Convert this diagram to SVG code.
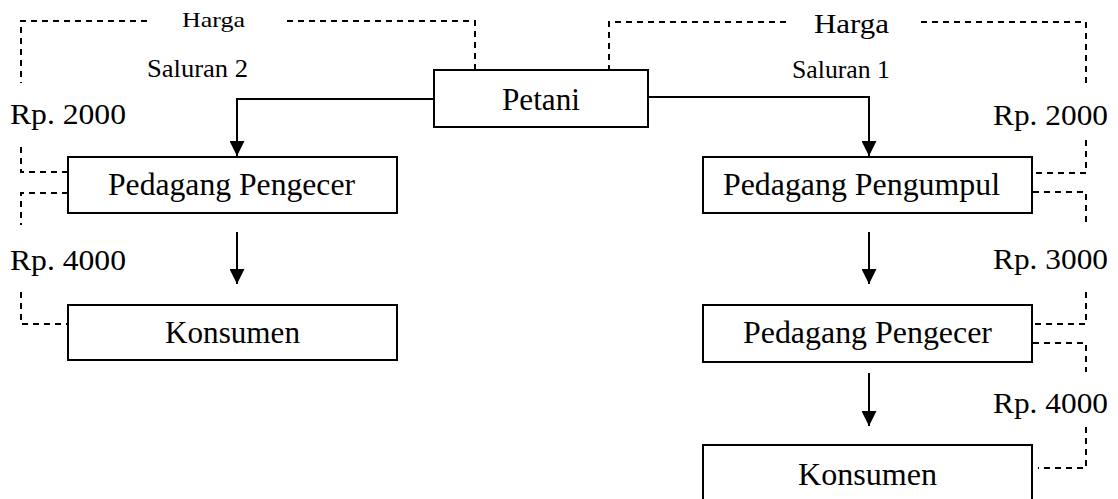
<svg xmlns="http://www.w3.org/2000/svg" width="1118" height="499" viewBox="0 0 1118 499">
<style>
.box{fill:#fff;stroke:#000;stroke-width:2}
.t{font-family:"Liberation Serif","Times New Roman",Times,serif;fill:#000}
.flow{fill:none;stroke:#000;stroke-width:2}
.dash{fill:none;stroke:#000;stroke-width:1.6;stroke-dasharray:6 5;shape-rendering:crispEdges}
</style>
<defs>
<marker id="ah" viewBox="0 0 15 15" refX="15" refY="7.5" markerWidth="15" markerHeight="15" markerUnits="userSpaceOnUse" orient="auto">
<path d="M0,0 L15,7.5 L0,15 Z" fill="#000"/>
</marker>
</defs>
<rect width="1118" height="499" fill="#fff"/>

<g id="connectors">
<path class="flow" d="M434,99 H237 V156" marker-end="url(#ah)"/>
<path class="flow" d="M648,97 H869 V156" marker-end="url(#ah)"/>
<path class="flow" d="M237,232 V284" marker-end="url(#ah)"/>
<path class="flow" d="M869,232 V284" marker-end="url(#ah)"/>
<path class="flow" d="M869,373 V426" marker-end="url(#ah)"/>
<path class="dash" d="M147,21 H21 V83"/>
<path class="dash" d="M287,21 H475 V70"/>
<path class="dash" d="M21,147 V172 H68"/>
<path class="dash" d="M68,193 H21 V225"/>
<path class="dash" d="M21,292 V324 H68"/>
<path class="dash" d="M786,22 H609 V70"/>
<path class="dash" d="M921,22 H1086 V86"/>
<path class="dash" d="M1086,140 V173 H1033"/>
<path class="dash" d="M1033,192 H1086 V227"/>
<path class="dash" d="M1086,292 V324 H1033"/>
<path class="dash" d="M1033,343 H1086 V372"/>
<path class="dash" d="M1086,427 V468 H1038"/>
</g>

<g id="labels">
<text class="t" x="182" y="27" font-size="22" textLength="63" lengthAdjust="spacingAndGlyphs">Harga</text>
<text class="t" x="147" y="77" font-size="26" textLength="101" lengthAdjust="spacingAndGlyphs">Saluran 2</text>
<text class="t" x="10" y="124" font-size="30" textLength="116" lengthAdjust="spacingAndGlyphs">Rp. 2000</text>
<text class="t" x="10" y="270" font-size="30" textLength="116" lengthAdjust="spacingAndGlyphs">Rp. 4000</text>
<text class="t" x="814" y="33" font-size="28" textLength="75" lengthAdjust="spacingAndGlyphs">Harga</text>
<text class="t" x="792" y="78" font-size="26" textLength="98" lengthAdjust="spacingAndGlyphs">Saluran 1</text>
<text class="t" x="993" y="125" font-size="30" textLength="115" lengthAdjust="spacingAndGlyphs">Rp. 2000</text>
<text class="t" x="993" y="269" font-size="30" textLength="115" lengthAdjust="spacingAndGlyphs">Rp. 3000</text>
<text class="t" x="993" y="413" font-size="30" textLength="115" lengthAdjust="spacingAndGlyphs">Rp. 4000</text>
</g>

<g id="petani">
<rect class="box" x="434" y="70" width="214" height="57"/>
<text class="t" x="502" y="110" font-size="31" textLength="78" lengthAdjust="spacingAndGlyphs">Petani</text>
</g>
<g id="pengecer2">
<rect class="box" x="68" y="157" width="329" height="56"/>
<text class="t" x="108" y="195" font-size="31" textLength="247" lengthAdjust="spacingAndGlyphs">Pedagang Pengecer</text>
</g>
<g id="konsumen2">
<rect class="box" x="68" y="305" width="329" height="55"/>
<text class="t" x="165" y="343" font-size="31" textLength="135" lengthAdjust="spacingAndGlyphs">Konsumen</text>
</g>
<g id="pengumpul1">
<rect class="box" x="703" y="157" width="329" height="56"/>
<text class="t" x="723" y="195" font-size="31" textLength="277" lengthAdjust="spacingAndGlyphs">Pedagang Pengumpul</text>
</g>
<g id="pengecer1">
<rect class="box" x="703" y="305" width="329" height="57"/>
<text class="t" x="743" y="343" font-size="31" textLength="249" lengthAdjust="spacingAndGlyphs">Pedagang Pengecer</text>
</g>
<g id="konsumen1">
<rect class="box" x="703" y="445" width="329" height="60"/>
<text class="t" x="798" y="485" font-size="31" textLength="139" lengthAdjust="spacingAndGlyphs">Konsumen</text>
</g>
</svg>
